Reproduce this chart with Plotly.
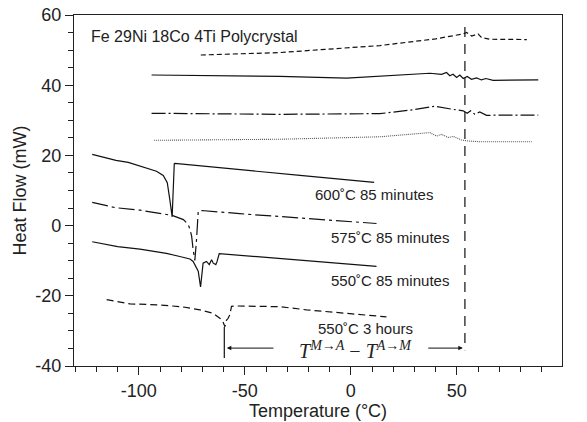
import plotly.graph_objects as go

# ---------------- data ----------------
# Heating curves (upper group)
h1_x = [-70.8, -33.5, 13.7, 40, 53, 54.6, 57, 60, 61.6, 65.6, 83]
h1_y = [48.6, 49.3, 51.3, 53.2, 54.6, 55.0, 54.0, 54.6, 53.6, 53.1, 53.0]

h2_x = [-94, -33.5, -2, 13.7, 37.3, 42.8, 45.1, 46.7, 48.2, 49.9, 51.4, 53, 54.9, 56.9, 59.3, 61.6, 63.7, 67.1, 88.4]
h2_y = [42.9, 42.5, 42.0, 42.5, 43.4, 43.1, 43.6, 42.7, 43.1, 42.2, 42.9, 41.9, 42.5, 41.7, 42.1, 41.5, 41.9, 41.4, 41.5]

h3_x = [-94, -33.5, 13.7, 29.4, 39.6, 42.8, 48.3, 53, 54.9, 56.5, 58.5, 60.8, 64, 70.3, 88.4]
h3_y = [32.0, 31.7, 31.9, 33.0, 34.0, 33.6, 33.1, 32.7, 32.0, 32.7, 31.7, 32.4, 31.4, 31.5, 31.5]

h4_x = [-92.9, -33.5, 13.7, 29.4, 37.3, 40.4, 42.8, 45.9, 48.3, 52.2, 55.4, 60.8, 85.3]
h4_y = [24.3, 24.6, 25.3, 26.0, 26.5, 25.5, 26.0, 25.1, 25.4, 24.4, 24.1, 23.9, 23.9]

# Cooling curves (lower group)
c600_x = [-122, -115, -110.8, -105, -99.5, -95, -91.7, -88.5, -86.6, -85.4, -84.3, -83.3, -83, -24, 11]
c600_y = [20.3, 19.2, 18.6, 18.0, 17.0, 16.3, 15.5, 14.3, 12.2, 7.4, 2.5, 17.6, 17.7, 14.3, 12.3]

c575_x = [-122, -111, -99.5, -87, -84.3, -79, -76.7, -75.9, -75.1, -74.4, -73.6, -72.8, -72, -70.4, -52.4, 12.1]
c575_y = [6.6, 5.1, 4.4, 3.1, 2.9, 1.7, 0.3, -1.1, -3.0, -6.9, -9.9, -4.0, 4.1, 4.3, 3.4, 0.6]

c550_x = [-122, -110, -99.5, -87, -80.7, -75.9, -74.4, -72, -70.9, -69.7, -68.1, -66.8, -65.7, -64.9, -63.7, -63.1, -62.1, -33.5, 12.1]
c550_y = [-4.6, -6.0, -6.7, -7.9, -8.8, -9.5, -10.2, -13.0, -17.5, -10.7, -10.2, -11.1, -9.7, -10.7, -11.1, -10.2, -8.0, -9.4, -11.6]

c3h_x = [-115.2, -104.2, -90, -79, -71.2, -64.9, -61.8, -60.6, -59.4, -58.7, -57.9, -57.1, -56.3, -54.7, -33.5, -21, 16.8]
c3h_y = [-21.1, -22.3, -22.6, -23.2, -24.0, -25.0, -26.4, -27.0, -28.8, -27.0, -26.4, -25.4, -23.0, -22.9, -23.1, -24.0, -26.0]

# Marker lines and arrows
vsolid_x = [-59.7, -59.7]
vsolid_y = [-28.9, -37.7]
vdash_x = [53.8, 53.8]
vdash_y = [56.6, -35.5]
arrow_y = -34.9
arrow_left = (-35.8, -58.5)    # tail, head
arrow_right = (35.8, 52.8)     # tail, head

# Labels
labels = ["600˚C 85 minutes", "575˚C 85 minutes", "550˚C 85 minutes", "550˚C 3 hours"]
label_x = [10.8, 18.4, 18.4, 7.1]
label_y = [8.9, -3.4, -15.7, -29.4]
title_text = "Fe 29Ni 18Co 4Ti Polycrystal"

x_range = [-130.6, 99.6]
y_range = [-40, 60]
x_ticks = [-100, -50, 0, 50, 100]
x_ticktext = ["-100", "-50", "0", "50", "100"]
y_ticks = [-40, -20, 0, 20, 40, 60]
y_ticktext = ["-40", "-20", "0", "20", "40", "60"]

# ---------------- figure ----------------
FONT = "Liberation Sans, Arial, sans-serif"
BLACK = "#111111"
TXT = "#222222"

fig = go.Figure()

def add_line(x, y, dash, width=1.2, color=BLACK):
    fig.add_trace(go.Scatter(x=x, y=y, mode="lines",
                             line=dict(color=color, width=width, dash=dash),
                             hoverinfo="skip", showlegend=False))

add_line(h1_x, h1_y, "5px,3px")
add_line(h2_x, h2_y, "solid")
add_line(h3_x, h3_y, "14px,3px,2px,3px")
add_line(h4_x, h4_y, "1px,1px", width=1.1, color="#555555")
add_line(c600_x, c600_y, "solid")
add_line(c575_x, c575_y, "16px,4px,3px,4px")
add_line(c550_x, c550_y, "solid")
add_line(c3h_x, c3h_y, "7px,4px")
add_line(vsolid_x, vsolid_y, "solid", width=1.2)
add_line(vdash_x, vdash_y, "10px,7px", width=1.2)

for t, x, y in zip(labels, label_x, label_y):
    fig.add_annotation(x=x, y=y, text=t, showarrow=False,
                       font=dict(family=FONT, size=15, color=TXT),
                       xanchor="center", yanchor="middle")

fig.add_annotation(x=-123.6, y=54, text=title_text, showarrow=False,
                   font=dict(family=FONT, size=16, color=TXT),
                   xanchor="left", yanchor="middle")

fig.add_annotation(x=2.4, y=-35.3,
                   text="<i>T</i><sup><i>M→A</i></sup> − <i>T</i><sup><i>A→M</i></sup>",
                   showarrow=False,
                   font=dict(family="Liberation Serif, Times New Roman, serif", size=20, color=TXT),
                   xanchor="center", yanchor="middle")

for tail, head in (arrow_left, arrow_right):
    fig.add_annotation(x=head, y=arrow_y, ax=tail, ay=arrow_y,
                       xref="x", yref="y", axref="x", ayref="y",
                       text="", showarrow=True, arrowhead=2, arrowsize=0.9,
                       arrowwidth=1, arrowcolor=BLACK)

axis_common = dict(showgrid=False, zeroline=False, showline=True, linecolor=TXT,
                   linewidth=1.2, mirror=True, ticks="outside", ticklen=8, tickwidth=1.2,
                   tickcolor=TXT, automargin=False,
                   tickfont=dict(family=FONT, size=18, color=TXT))

fig.update_xaxes(range=x_range, tickvals=x_ticks, ticktext=x_ticktext, **axis_common,
                 minor=dict(dtick=10, ticks="outside", ticklen=5, tickwidth=1.2, tickcolor=TXT),
                 title=dict(text="Temperature (°C)", font=dict(family=FONT, size=18, color=TXT), standoff=2))
fig.update_yaxes(range=y_range, tickvals=y_ticks, ticktext=y_ticktext, **axis_common,
                 minor=dict(dtick=5, ticks="outside", ticklen=5, tickwidth=1.2, tickcolor=TXT),
                 title=dict(text="Heat Flow (mW)", font=dict(family=FONT, size=18, color=TXT), standoff=3))

fig.update_layout(width=587, height=422, margin=dict(l=74, r=25, t=15, b=56),
                  paper_bgcolor="white", plot_bgcolor="white", showlegend=False)

# remove the browser's default 8px body margin so the figure sits at the page origin
fig.write_html("out.html", config={"displayModeBar": False},
               post_script="document.body.style.margin='0';")
